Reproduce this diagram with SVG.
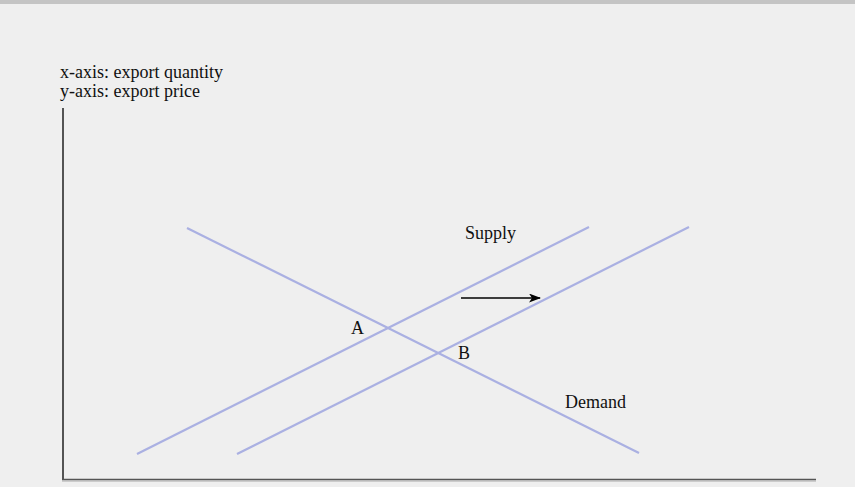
<svg xmlns="http://www.w3.org/2000/svg" width="855" height="487" viewBox="0 0 855 487">
<defs>
<style>
.t{font-family:"Liberation Serif","Times New Roman",serif;font-size:18px;fill:#111}
.c{stroke:#aab0e2;stroke-width:2.2;fill:none;stroke-linecap:butt}
</style>
<marker id="ah" markerWidth="12" markerHeight="9" refX="11" refY="4.5" orient="auto" markerUnits="userSpaceOnUse">
<path d="M0,0 L12,4.5 L0,9 L3,4.5 Z" fill="#000"/>
</marker>
</defs>
<rect x="0" y="0" width="855" height="487" fill="#efefef"/>
<rect x="0" y="0" width="855" height="4" fill="#c4c4c4"/>
<g id="labels">
<text class="t" x="60" y="78">x-axis: export quantity</text>
<text class="t" x="60" y="97">y-axis: export price</text>
</g>
<g id="axes">
<line x1="63" y1="108" x2="63" y2="480" stroke="#000" stroke-width="1.3"/>
<line x1="62" y1="479.5" x2="816" y2="479.5" stroke="#555" stroke-width="1.5"/>
<line x1="62" y1="481" x2="816" y2="481" stroke="#aaa" stroke-width="1"/>
</g>
<g id="connectors">
<line id="demand" class="c" x1="187" y1="228" x2="639" y2="453"/>
<line id="supply1" class="c" x1="137" y1="454" x2="589" y2="227"/>
<line id="supply2" class="c" x1="237" y1="454" x2="689" y2="227"/>
<line id="shift" x1="461" y1="298" x2="540" y2="298" stroke="#000" stroke-width="1.5" marker-end="url(#ah)"/>
</g>
<g id="node-supply"><text class="t" x="465" y="239">Supply</text></g>
<g id="node-A"><text class="t" x="351" y="334">A</text></g>
<g id="node-B"><text class="t" x="458" y="359">B</text></g>
<g id="node-demand"><text class="t" x="565" y="408">Demand</text></g>
</svg>
